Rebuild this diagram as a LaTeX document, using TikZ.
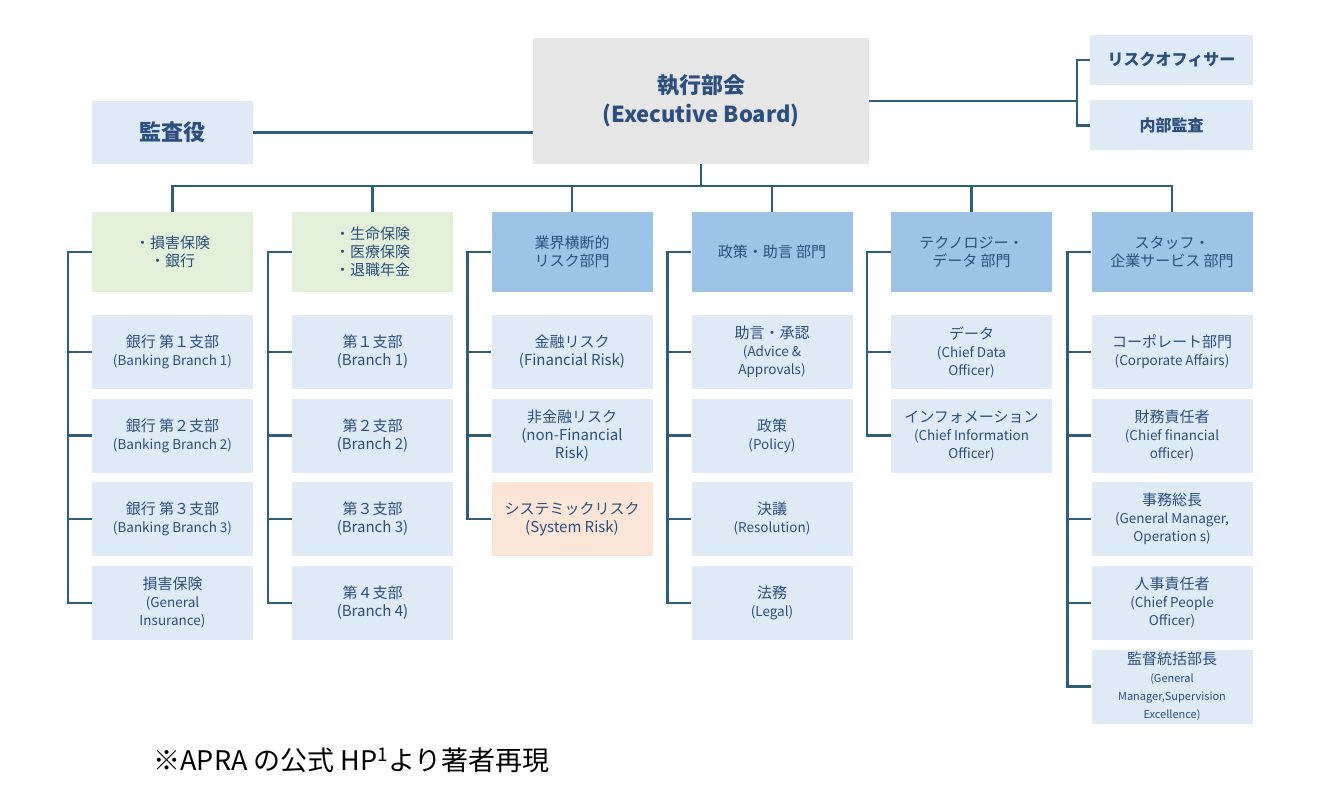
\documentclass[tikz,border=0pt]{standalone}
\usepackage{fontspec}
\setmainfont{Noto Sans CJK JP}
\usetikzlibrary{calc}
\definecolor{ln}{HTML}{2E5F7A}
\definecolor{tx}{HTML}{2B4F7E}
\definecolor{lb}{HTML}{DEEBF7}
\definecolor{hb}{HTML}{9DC3E6}
\definecolor{gr}{HTML}{E2EFD9}
\definecolor{pe}{HTML}{FBE5D6}
\definecolor{gy}{HTML}{E6E6E6}
\newcommand\rsm{\fontsize{13.5}{17}\selectfont}
\newcommand\rxs{\fontsize{11}{14}\selectfont}
\begin{document}
\begin{tikzpicture}[x=1pt,y=-1pt,
 box/.style={inner sep=0,minimum width=161,align=center,text=tx,font=\fontsize{15}{18}\selectfont},
 ch/.style={box,fill=lb,minimum height=74},
 hd/.style={box,fill=hb,minimum height=80},
 hg/.style={box,fill=gr,minimum height=80},
 con/.style={draw=ln,line width=2.6pt}]
\useasboundingbox (0,0) rectangle (1325,810);
\node[box,fill=gy,minimum width=336,minimum height=126,font=\fontsize{22}{29}\selectfont\bfseries] (ex) at (701,101) {執行部会\\(Executive Board)};
\node[box,fill=lb,minimum height=63,font=\fontsize{22}{26}\selectfont\bfseries] (ka) at (172.5,132.5) {監査役};
\node[box,fill=lb,minimum width=163,minimum height=50,font=\fontsize{16}{18}\selectfont\bfseries] (ro) at (1171.5,60) {リスクオフィサー};
\node[box,fill=lb,minimum width=163,minimum height=50,font=\fontsize{16}{18}\selectfont\bfseries] (na) at (1171.5,125.5) {内部監査};
\draw[con] (ka.east) -- (ex.west |- ka.east);
\draw[con] (ex.east |- 0,101) -- (1077,101);
\draw[con] (ro.west) -- ++(-13,0) coordinate (r1) -- (r1 |- na.west) -- (na.west);
\def\cA{172.5}\def\cB{372.5}\def\cC{572}\def\cD{772}\def\cE{971.5}\def\cF{1172}
\node[hg] (h1) at (\cA,252) {・損害保険\\・銀行};
\node[hg] (h2) at (\cB,252) {・生命保険\\・医療保険\\・退職年金};
\node[hd] (h3) at (\cC,252) {業界横断的\\リスク部門};
\node[hd] (h4) at (\cD,252) {政策・助言 部門};
\node[hd] (h5) at (\cE,252) {テクノロジー・\\データ 部門};
\node[hd] (h6) at (\cF,252) {スタッフ・\\企業サービス 部門};
\draw[con] (ex.south) -- ++(0,22) coordinate (bus);
\draw[con] (h1.north) |- (bus) -| (h6.north);
\foreach \h in {h2,h3,h4,h5}{\draw[con] (\h.north) -- (\h.north |- bus);}
\node[ch] (a1) at (\cA,352) {銀行 第１支部\\\rsm (Banking Branch 1)};
\node[ch] (a2) at (\cA,435.5) {銀行 第２支部\\\rsm (Banking Branch 2)};
\node[ch] (a3) at (\cA,519) {銀行 第３支部\\\rsm (Banking Branch 3)};
\node[ch] (a4) at (\cA,603) {損害保険\\\rsm (General\\\rsm Insurance)};
\node[ch] (b1) at (\cB,352) {第１支部\\(Branch 1)};
\node[ch] (b2) at (\cB,435.5) {第２支部\\(Branch 2)};
\node[ch] (b3) at (\cB,519) {第３支部\\(Branch 3)};
\node[ch] (b4) at (\cB,603) {第４支部\\(Branch 4)};
\node[ch] (c1) at (\cC,352) {金融リスク\\(Financial Risk)};
\node[ch] (c2) at (\cC,435.5) {非金融リスク\\(non-Financial\\Risk)};
\node[ch,fill=pe] (c3) at (\cC,519) {システミックリスク\\(System Risk)};
\node[ch] (d1) at (\cD,352) {助言・承認\\\rsm (Advice \&\\\rsm Approvals)};
\node[ch] (d2) at (\cD,435.5) {政策\\\rsm (Policy)};
\node[ch] (d3) at (\cD,519) {決議\\\rsm (Resolution)};
\node[ch] (d4) at (\cD,603) {法務\\\rsm (Legal)};
\node[ch] (e1) at (\cE,352) {データ\\\rsm (Chief Data\\\rsm Officer)};
\node[ch] (e2) at (\cE,435.5) {インフォメーション\\\rsm (Chief Information\\\rsm Officer)};
\node[ch] (f1) at (\cF,352) {コーポレート部門\\\rsm (Corporate Affairs)};
\node[ch] (f2) at (\cF,435.5) {財務責任者\\\rsm (Chief financial\\\rsm officer)};
\node[ch] (f3) at (\cF,519) {事務総長\\\rsm (General Manager,\\\rsm Operation s)};
\node[ch] (f4) at (\cF,603) {人事責任者\\\rsm (Chief People\\\rsm Officer)};
\node[ch] (f5) at (\cF,686.5) {監督統括部長\\\rxs (General\\\rxs Manager,Supervision\\\rxs Excellence)};
\foreach \h/\l/\m in {h1/a4/{a1,a2,a3},h2/b4/{b1,b2,b3},h3/c3/{c1,c2},h4/d4/{d1,d2,d3},h5/e2/{e1},h6/f5/{f1,f2,f3,f4}}{
 \draw[con] (\h.west) -- ++(-24,0) coordinate (t) -- (t |- \l.west) -- (\l.west);
 \foreach \c in \m {\draw[con] (\c.west) -- (\c.west -| t);}
}
\node[anchor=west,font=\fontsize{27}{30}\selectfont,text=black] (cap) at (150,760) {※APRA の公式 HP\textsuperscript{1}より著者再現};
\end{tikzpicture}
\end{document}
